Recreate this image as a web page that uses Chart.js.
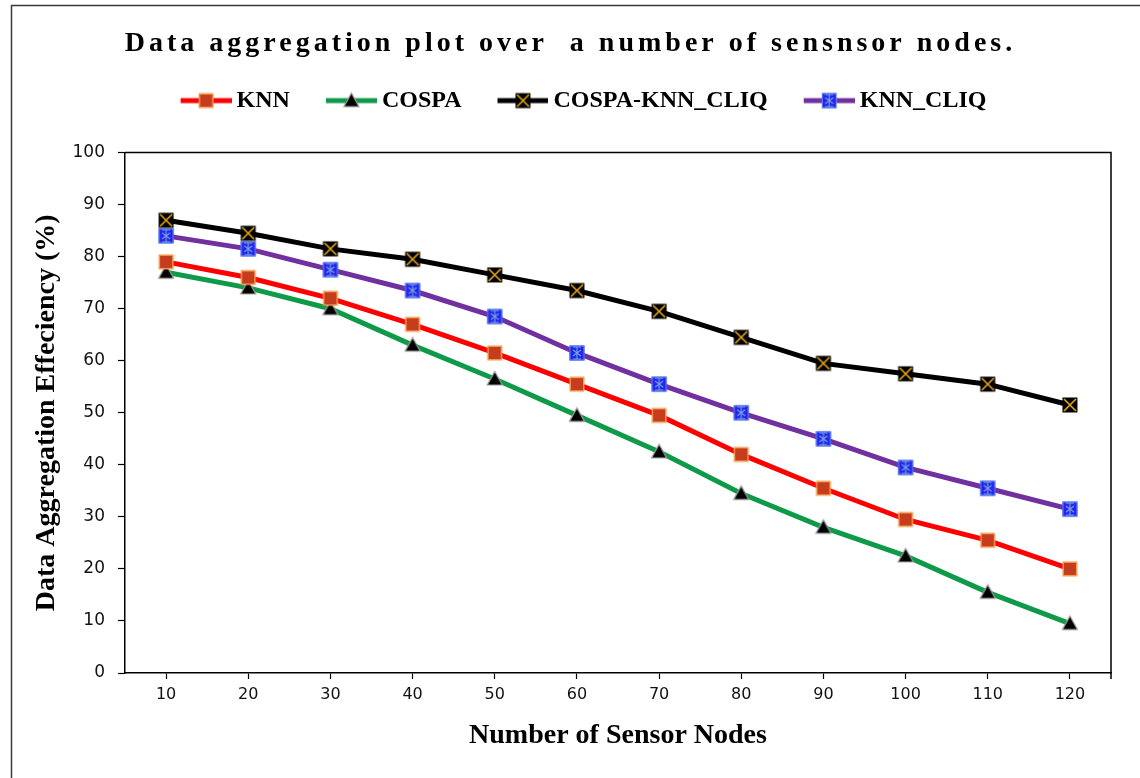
<!DOCTYPE html>
<html>
<head>
<meta charset="utf-8">
<title>Data aggregation plot</title>
<script src="https://cdn.jsdelivr.net/npm/chart.js@4.4.1/dist/chart.umd.min.js"></script>
<style>
  html, body { margin: 0; padding: 0; background: #ffffff; }
  #wrap { width: 1140px; height: 778px; }
</style>
</head>
<body>
<div id="wrap"><canvas id="chart" width="1140" height="778"></canvas></div>
<script>
// Number of sensor nodes (x categories)
const nodeCounts = ['10', '20', '30', '40', '50', '60', '70', '80', '90', '100', '110', '120'];

// Data aggregation efficiency (%) per method
const knn          = [79, 76, 72, 67, 61.5, 55.5, 49.5, 42, 35.5, 29.5, 25.5, 20];
const cospa        = [77, 74, 70, 63, 56.5, 49.5, 42.5, 34.5, 28, 22.5, 15.5, 9.5];
const cospaKnnCliq = [87, 84.5, 81.5, 79.5, 76.5, 73.5, 69.5, 64.5, 59.5, 57.5, 55.5, 51.5];
const knnCliq      = [84, 81.5, 77.5, 73.5, 68.5, 61.5, 55.5, 50, 45, 39.5, 35.5, 31.5];

const seriesNames = ['KNN', 'COSPA', 'COSPA-KNN_CLIQ', 'KNN_CLIQ'];
const yTicks = [0, 10, 20, 30, 40, 50, 60, 70, 80, 90, 100];

const chartTitle = 'Data aggregation plot over  a number of sensnsor nodes.';
const xTitle = 'Number of Sensor Nodes';
const yTitle = 'Data Aggregation Effeciency (%)';

// ---- marker glyphs --------------------------------------------------------
function makeCanvas(w, h, paint) {
  const c = document.createElement('canvas');
  c.width = w; c.height = h;
  paint(c.getContext('2d'), w, h);
  return c;
}

function paintSquare(ctx, cx, cy) {
  ctx.fillStyle = '#c63d1d';
  ctx.fillRect(cx - 7, cy - 7, 14, 14);
  ctx.strokeStyle = '#f29a4e';
  ctx.lineWidth = 1.5;
  ctx.strokeRect(cx - 6.75, cy - 6.75, 13.5, 13.5);
}
function paintTriangle(ctx, cx, cy) {
  ctx.beginPath();
  ctx.moveTo(cx, cy - 7.5);
  ctx.lineTo(cx + 7.5, cy + 6);
  ctx.lineTo(cx - 7.5, cy + 6);
  ctx.closePath();
  ctx.fillStyle = '#000';
  ctx.fill();
  ctx.strokeStyle = '#9c9c9c';
  ctx.lineWidth = 1.2;
  ctx.stroke();
}
function paintCross(ctx, cx, cy) {
  ctx.fillStyle = '#000';
  ctx.fillRect(cx - 7.5, cy - 7.5, 15, 15);
  ctx.strokeStyle = '#e6a514';
  ctx.lineWidth = 1.6;
  ctx.beginPath();
  ctx.moveTo(cx - 6, cy - 6); ctx.lineTo(cx + 6, cy + 6);
  ctx.moveTo(cx + 6, cy - 6); ctx.lineTo(cx - 6, cy + 6);
  ctx.stroke();
}
function paintStar(ctx, cx, cy) {
  ctx.fillStyle = '#2424f2';
  ctx.fillRect(cx - 7.5, cy - 7.5, 15, 15);
  ctx.strokeStyle = '#5f8fe6';
  ctx.lineWidth = 1;
  ctx.strokeRect(cx - 7, cy - 7, 14, 14);
  ctx.strokeStyle = '#7aa7d8';
  ctx.lineWidth = 1.1;
  ctx.beginPath();
  ctx.moveTo(cx, cy - 6); ctx.lineTo(cx, cy + 6);
  ctx.moveTo(cx - 4, cy - 6); ctx.lineTo(cx + 4, cy - 6);
  ctx.moveTo(cx - 4, cy + 6); ctx.lineTo(cx + 4, cy + 6);
  ctx.moveTo(cx - 4, cy - 3); ctx.lineTo(cx + 4, cy + 3);
  ctx.moveTo(cx + 4, cy - 3); ctx.lineTo(cx - 4, cy + 3);
  ctx.stroke();
}

const lineColors = ['#ff0000', '#0f9a4a', '#000000', '#7030a0'];
const painters = [paintSquare, paintTriangle, paintCross, paintStar];

const pointIcons = painters.map(p => makeCanvas(18, 18, (ctx) => p(ctx, 9, 9)));

// legend swatch: short line with the marker in its middle, right-aligned in the image
const legendIcons = painters.map((p, i) => makeCanvas(84, 20, (ctx, w, h) => {
  ctx.strokeStyle = lineColors[i];
  ctx.lineWidth = 5;
  ctx.beginPath();
  ctx.moveTo(33, h / 2); ctx.lineTo(w, h / 2);
  ctx.stroke();
  p(ctx, 33 + (w - 33) / 2, h / 2);
}));

// ---- plugins ---------------------------------------------------------------
const framePlugin = {
  id: 'frames',
  beforeLayout(chart) {
    // extra room below the legend row
    const lg = chart.legend;
    if (lg && !lg._gapWrapped) {
      const fit = lg.fit.bind(lg);
      lg.fit = function () { fit(); if (this.isHorizontal()) this.height += 30; };
      lg._gapWrapped = true;
    }
    // spaced-out letters for the main title
    const tb = chart.titleBlock;
    if (tb && !tb._spaceWrapped) {
      const draw = tb.draw.bind(tb);
      tb.draw = function () {
        const ctx = this.ctx;
        ctx.save();
        ctx.letterSpacing = '4px';
        draw();
        ctx.restore();
      };
      tb._spaceWrapped = true;
    }
  },
  beforeDraw(chart) {
    const ctx = chart.ctx;
    ctx.save();
    ctx.strokeStyle = '#3a3a3a';
    ctx.lineWidth = 1.5;
    ctx.beginPath();
    ctx.moveTo(11.5, chart.height);
    ctx.lineTo(11.5, 5.5);
    ctx.lineTo(chart.width, 5.5);
    ctx.stroke();
    ctx.restore();
  },
  beforeDatasetsDraw(chart) {
    const {ctx, chartArea: a} = chart;
    ctx.save();
    ctx.strokeStyle = '#000';
    ctx.lineWidth = 1.5;
    ctx.beginPath();
    ctx.moveTo(a.left, a.top);
    ctx.lineTo(a.right, a.top);
    ctx.lineTo(a.right, a.bottom + 6);
    ctx.stroke();
    ctx.restore();
  }
};

// ---- chart -----------------------------------------------------------------
const seriesValues = [knn, cospa, cospaKnnCliq, knnCliq];

const datasets = seriesValues.map((vals, i) => ({
  label: seriesNames[i],
  data: vals,
  borderColor: lineColors[i],
  backgroundColor: lineColors[i],
  borderWidth: 5,
  tension: 0,
  pointStyle: pointIcons[i],
  pointRadius: 6,
  pointHoverRadius: 6,
  clip: false
}));

const serif = "'Liberation Serif', 'Times New Roman', serif";
const sans = "'DejaVu Sans', sans-serif";

new Chart(document.getElementById('chart'), {
  type: 'line',
  data: { labels: nodeCounts, datasets },
  plugins: [framePlugin],
  options: {
    responsive: false,
    animation: false,
    devicePixelRatio: 1,
    layout: { padding: { top: 8, left: 30, right: 29, bottom: 25 } },
    plugins: {
      tooltip: { enabled: false },
      title: {
        display: true,
        text: chartTitle,
        color: '#000',
        font: { family: serif, size: 28, weight: 'bold' },
        padding: { top: 19, bottom: 18 }
      },
      legend: {
        display: true,
        position: 'top',
        labels: {
          usePointStyle: true,
          pointStyleWidth: 70,
          padding: 10,
          color: '#000',
          font: { family: serif, size: 24, weight: 'bold' },
          generateLabels: (chart) => chart.data.datasets.map((ds, i) => ({
            text: ds.label,
            pointStyle: legendIcons[i],
            datasetIndex: i,
            hidden: false,
            lineWidth: 0,
            strokeStyle: 'rgba(0,0,0,0)',
            fillStyle: 'rgba(0,0,0,0)',
            fontColor: '#000'
          }))
        }
      }
    },
    scales: {
      x: {
        type: 'category',
        offset: true,
        afterFit: (s) => { s.height = 80; },
        grid: {
          offset: false,
          drawOnChartArea: false,
          drawTicks: true,
          tickLength: 6,
          tickWidth: 1.2,
          tickColor: '#000'
        },
        border: { display: true, color: '#000', width: 1.5 },
        ticks: {
          color: '#111',
          padding: 6,
          maxRotation: 0,
          autoSkip: false,
          font: { family: sans, size: 16 }
        },
        title: {
          display: true,
          text: xTitle,
          color: '#000',
          font: { family: serif, size: 28, weight: 'bold' },
          padding: { top: 0, bottom: 0 }
        }
      },
      y: {
        min: 0,
        max: 100,
        afterFit: (s) => { s.width = 95; },
        afterBuildTicks: (s) => { s.ticks = yTicks.map(v => ({ value: v })); },
        grid: {
          drawOnChartArea: false,
          drawTicks: true,
          tickLength: 7,
          tickWidth: 1.2,
          tickColor: '#000'
        },
        border: { display: true, color: '#000', width: 1.5 },
        ticks: {
          color: '#111',
          padding: 13,
          font: { family: sans, size: 17 }
        },
        title: {
          display: true,
          text: yTitle,
          color: '#000',
          font: { family: serif, size: 28, weight: 'bold' },
          padding: { top: 0, bottom: 0 }
        }
      }
    }
  }
});
</script>
</body>
</html>
